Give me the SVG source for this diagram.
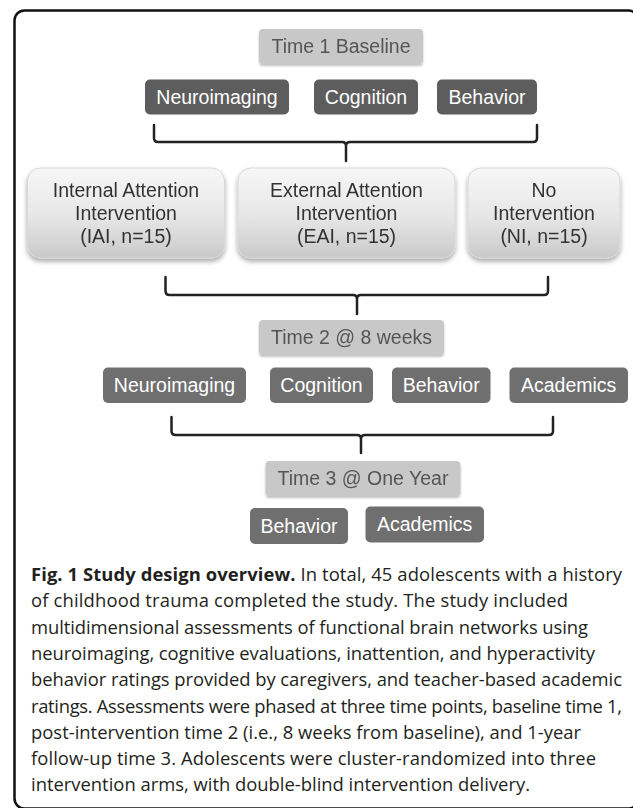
<svg xmlns="http://www.w3.org/2000/svg" width="633" height="808" viewBox="0 0 633 808">
  <defs>
    <linearGradient id="gArm" x1="0" y1="0" x2="0" y2="1">
      <stop offset="0" stop-color="#f7f7f7"/>
      <stop offset="0.55" stop-color="#e6e6e6"/>
      <stop offset="1" stop-color="#c9c9c9"/>
    </linearGradient>
    <filter id="shArm" x="-10%" y="-10%" width="120%" height="130%">
      <feGaussianBlur in="SourceAlpha" stdDeviation="2.5"/>
      <feOffset dx="0" dy="3" result="b"/>
      <feComponentTransfer><feFuncA type="linear" slope="0.35"/></feComponentTransfer>
      <feMerge><feMergeNode/><feMergeNode in="SourceGraphic"/></feMerge>
    </filter>
    <filter id="shTime" x="-5%" y="-10%" width="110%" height="140%">
      <feGaussianBlur in="SourceAlpha" stdDeviation="1"/>
      <feOffset dx="0" dy="2" result="b"/>
      <feComponentTransfer><feFuncA type="linear" slope="0.25"/></feComponentTransfer>
      <feMerge><feMergeNode/><feMergeNode in="SourceGraphic"/></feMerge>
    </filter>
  </defs>
  <style>
    .time rect { fill: #c8c8c8; }
    .time text { fill: #555555; }
    .dark1 rect { fill: #5d5d5d; }
    .dark2 rect { fill: #6f6f6f; }
    .dark1 text, .dark2 text { fill: #ffffff; }
    .arm rect { fill: url(#gArm); stroke: #d8d8d8; stroke-width: 1; }
    .arm text { fill: #333333; }
    .lbl { font-family: "Liberation Sans", Arial, sans-serif; font-size: 19.5px; text-anchor: middle; }
    .brace { fill: none; stroke: #222222; stroke-width: 2.5; stroke-linecap: round; stroke-linejoin: round; }
    .cap { font-family: "Open Sans", "Noto Sans", sans-serif; font-size: 18.4px; fill: #231f20; }
    .capb { font-weight: 700; }
  </style>
  <rect x="0" y="0" width="633" height="808" fill="#ffffff"/>
  <rect id="frame" x="14.5" y="10.5" width="624" height="798" rx="10" fill="none" stroke="#111111" stroke-width="2.5"/>

  <g id="time1" class="time" filter="url(#shTime)">
    <rect x="259" y="29" width="164" height="35" rx="4"/>
    <text class="lbl" x="341" y="53">Time 1 Baseline</text>
  </g>
  <g id="t1-neuro" class="dark1">
    <rect x="145" y="79.5" width="144" height="35" rx="5"/>
    <text class="lbl" x="217" y="104">Neuroimaging</text>
  </g>
  <g id="t1-cog" class="dark1">
    <rect x="314" y="79.5" width="104" height="35" rx="5"/>
    <text class="lbl" x="366" y="104">Cognition</text>
  </g>
  <g id="t1-beh" class="dark1">
    <rect x="437" y="79.5" width="100" height="35" rx="5"/>
    <text class="lbl" x="487" y="104">Behavior</text>
  </g>

  <g id="arm-iai" class="arm" filter="url(#shArm)">
    <rect x="27.5" y="168" width="197" height="90" rx="13"/>
    <text class="lbl" x="126" y="197">Internal Attention</text>
    <text class="lbl" x="126" y="220">Intervention</text>
    <text class="lbl" x="126" y="243">(IAI, n=15)</text>
  </g>
  <g id="arm-eai" class="arm" filter="url(#shArm)">
    <rect x="238" y="168" width="217" height="90" rx="13"/>
    <text class="lbl" x="346.5" y="197">External Attention</text>
    <text class="lbl" x="346.5" y="220">Intervention</text>
    <text class="lbl" x="346.5" y="243">(EAI, n=15)</text>
  </g>
  <g id="arm-ni" class="arm" filter="url(#shArm)">
    <rect x="468" y="168" width="152" height="90" rx="13"/>
    <text class="lbl" x="544" y="197">No</text>
    <text class="lbl" x="544" y="220">Intervention</text>
    <text class="lbl" x="544" y="243">(NI, n=15)</text>
  </g>

  <g id="time2" class="time" filter="url(#shTime)">
    <rect x="259" y="320" width="185" height="35" rx="4"/>
    <text class="lbl" x="351.5" y="344">Time 2 @ 8 weeks</text>
  </g>
  <g id="t2-neuro" class="dark2">
    <rect x="103" y="367.5" width="143" height="35.5" rx="5"/>
    <text class="lbl" x="174.5" y="392">Neuroimaging</text>
  </g>
  <g id="t2-cog" class="dark2">
    <rect x="270" y="367.5" width="103" height="35.5" rx="5"/>
    <text class="lbl" x="321.5" y="392">Cognition</text>
  </g>
  <g id="t2-beh" class="dark2">
    <rect x="392" y="367.5" width="98.5" height="35.5" rx="5"/>
    <text class="lbl" x="441.2" y="392">Behavior</text>
  </g>
  <g id="t2-acad" class="dark2">
    <rect x="509.5" y="367.5" width="118.5" height="35.5" rx="5"/>
    <text class="lbl" x="568.7" y="392">Academics</text>
  </g>

  <g id="time3" class="time" filter="url(#shTime)">
    <rect x="265.5" y="461" width="195" height="35" rx="4"/>
    <text class="lbl" x="363" y="485">Time 3 @ One Year</text>
  </g>
  <g id="t3-beh" class="dark2">
    <rect x="250" y="508" width="98" height="36" rx="5"/>
    <text class="lbl" x="299" y="533">Behavior</text>
  </g>
  <g id="t3-acad" class="dark2">
    <rect x="365.5" y="506.5" width="118.5" height="36" rx="5"/>
    <text class="lbl" x="424.7" y="531">Academics</text>
  </g>

  <g id="connectors">
    <path class="brace" d="M154,125 V138 Q154,142 158,142 H342 Q346,142 346,146 V161 M346,146 Q346,142 350,142 H533 Q537,142 537,138 V125"/>
    <path class="brace" d="M165.5,277 V291 Q165.5,295 169.5,295 H353 Q357,295 357,299 V314 M357,299 Q357,295 361,295 H544 Q548,295 548,291 V277"/>
    <path class="brace" d="M171.5,417 V431 Q171.5,435 175.5,435 H357 Q361,435 361,439 V453 M361,439 Q361,435 365,435 H549 Q553,435 553,431 V417"/>
  </g>

  <g id="caption">
    <text class="cap" x="31" y="581" textLength="591" lengthAdjust="spacing"><tspan class="capb">Fig. 1 Study design overview.</tspan> In total, 45 adolescents with a history</text>
    <text class="cap" x="31" y="607.3" textLength="537" lengthAdjust="spacing">of childhood trauma completed the study. The study included</text>
    <text class="cap" x="31" y="633.6" textLength="557" lengthAdjust="spacing">multidimensional assessments of functional brain networks using</text>
    <text class="cap" x="31" y="659.9" textLength="564" lengthAdjust="spacing">neuroimaging, cognitive evaluations, inattention, and hyperactivity</text>
    <text class="cap" x="31" y="686.2" textLength="591" lengthAdjust="spacing">behavior ratings provided by caregivers, and teacher-based academic</text>
    <text class="cap" x="31" y="712.5" textLength="591" lengthAdjust="spacing">ratings. Assessments were phased at three time points, baseline time 1,</text>
    <text class="cap" x="31" y="738.8" textLength="550" lengthAdjust="spacing">post-intervention time 2 (i.e., 8 weeks from baseline), and 1-year</text>
    <text class="cap" x="31" y="765.1" textLength="565" lengthAdjust="spacing">follow-up time 3. Adolescents were cluster-randomized into three</text>
    <text class="cap" x="31" y="791.4" textLength="499" lengthAdjust="spacing">intervention arms, with double-blind intervention delivery.</text>
  </g>
</svg>
